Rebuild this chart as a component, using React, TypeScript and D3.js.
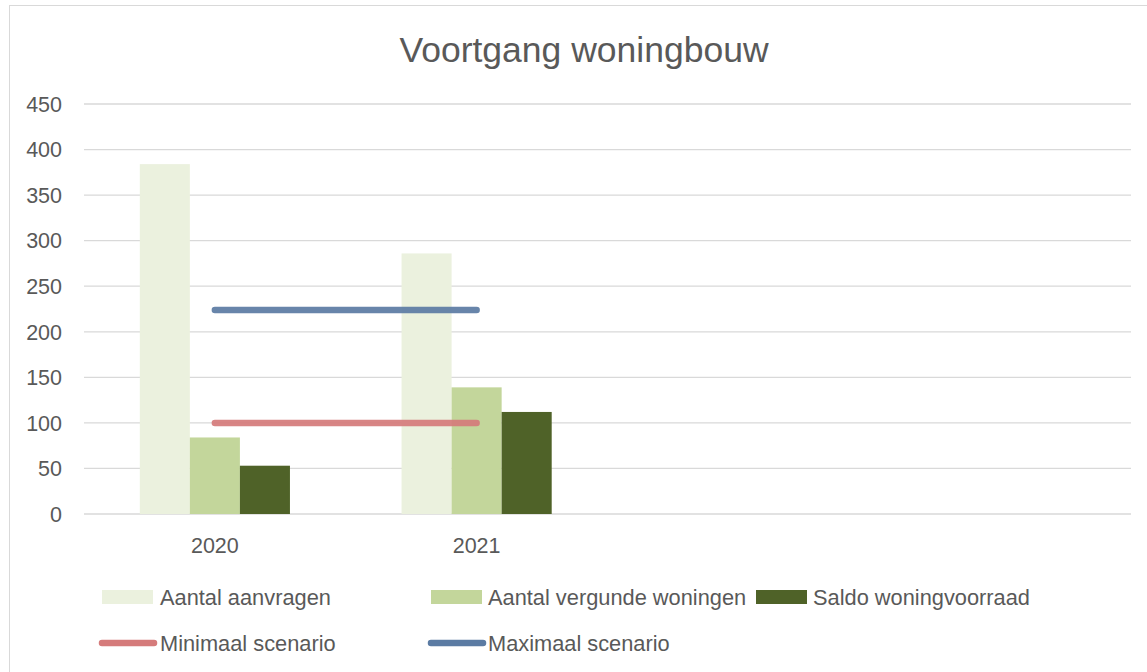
import React from "react";
import * as d3 from "d3";

// categories (the sheet has two extra empty rows)
const years = ["2020", "2021", "", ""];

// bar series
const aantalAanvragen = [384, 286];
const aantalVergund = [84, 139];
const saldoVoorraad = [53, 112];

// scenario lines
const minimaalScenario = [100, 100];
const maximaalScenario = [224, 224];

const yTicks = [0, 50, 100, 150, 200, 250, 300, 350, 400, 450];

const barSeries = [
  { name: "Aantal aanvragen", values: aantalAanvragen, color: "#EBF1DE" },
  { name: "Aantal vergunde woningen", values: aantalVergund, color: "#C3D69B" },
  { name: "Saldo woningvoorraad", values: saldoVoorraad, color: "#4F6228" },
];

const lineSeries = [
  { name: "Minimaal scenario", values: minimaalScenario, color: "#D57B7B" },
  { name: "Maximaal scenario", values: maximaalScenario, color: "#5B7BA3" },
];

const W = 1147;
const H = 672;
const font = "'Liberation Sans', Arial, sans-serif";
const textColor = "#595959";

export default function App() {
  const plot = { left: 84, right: 1131, top: 104, bottom: 514 };

  const x = d3
    .scaleBand<number>()
    .domain(d3.range(years.length))
    .range([plot.left, plot.right])
    .paddingInner(0.4264)
    .paddingOuter(0.2132);

  const xInner = d3
    .scaleBand<number>()
    .domain(d3.range(barSeries.length))
    .range([0, x.bandwidth()]);

  const y = d3.scaleLinear().domain([0, 450]).range([plot.bottom, plot.top]);

  const line = d3
    .line<number>()
    .x((_, i) => x(i)! + x.bandwidth() / 2)
    .y((d) => y(d));

  // legend layout
  const legendSlots = [
    { sx: 102, tx: 160, row: 0 },
    { sx: 431, tx: 488, row: 0 },
    { sx: 756, tx: 813, row: 0 },
  ];
  const lineLegendSlots = [
    { sx: 102, tx: 160, row: 1 },
    { sx: 431, tx: 488, row: 1 },
  ];
  const rowY = [597, 643];

  return (
    <div style={{ position: "absolute", left: 0, top: 0 }}>
      <svg width={W} height={H} style={{ display: "block", background: "#fff" }}>
        <rect x={9.5} y={5.5} width={1160} height={700} fill="#fff" stroke="#D9D9D9" />

        <text
          x={584}
          y={62}
          textAnchor="middle"
          fontFamily={font}
          fontSize={35.5}
          fill={textColor}
        >
          Voortgang woningbouw
        </text>

        {/* grid + y labels */}
        {yTicks.map((t) => (
          <g key={t}>
            <line
              x1={plot.left}
              x2={plot.right}
              y1={y(t)}
              y2={y(t)}
              stroke="#D9D9D9"
              strokeWidth={1.3}
            />
            <text
              x={62}
              y={y(t)}
              dy="0.36em"
              textAnchor="end"
              fontFamily={font}
              fontSize={21.5}
              fill={textColor}
            >
              {t}
            </text>
          </g>
        ))}

        {/* bars */}
        {barSeries.map((s, si) =>
          s.values.map((v, i) => (
            <rect
              key={s.name + i}
              x={x(i)! + xInner(si)!}
              y={y(v)}
              width={xInner.bandwidth()}
              height={y(0) - y(v)}
              fill={s.color}
            />
          ))
        )}

        {/* scenario lines */}
        {lineSeries.map((s) => (
          <path
            key={s.name}
            d={line(s.values) || ""}
            fill="none"
            stroke={s.color}
            strokeWidth={6.5}
            strokeLinecap="round"
            opacity={0.92}
          />
        ))}

        {/* category labels */}
        {years.map((yr, i) => (
          <text
            key={i}
            x={x(i)! + x.bandwidth() / 2}
            y={553}
            textAnchor="middle"
            fontFamily={font}
            fontSize={21.5}
            fill={textColor}
          >
            {yr}
          </text>
        ))}

        {/* legend */}
        {barSeries.map((s, i) => (
          <g key={s.name}>
            <rect
              x={legendSlots[i].sx}
              y={rowY[legendSlots[i].row] - 7}
              width={51}
              height={14}
              fill={s.color}
            />
            <text
              x={legendSlots[i].tx}
              y={rowY[legendSlots[i].row]}
              dy="0.36em"
              fontFamily={font}
              fontSize={21.8}
              fill={textColor}
            >
              {s.name}
            </text>
          </g>
        ))}
        {lineSeries.map((s, i) => (
          <g key={s.name}>
            <line
              x1={lineLegendSlots[i].sx}
              x2={lineLegendSlots[i].sx + 52}
              y1={rowY[lineLegendSlots[i].row]}
              y2={rowY[lineLegendSlots[i].row]}
              stroke={s.color}
              strokeWidth={6.5}
              strokeLinecap="round"
            />
            <text
              x={lineLegendSlots[i].tx}
              y={rowY[lineLegendSlots[i].row]}
              dy="0.36em"
              fontFamily={font}
              fontSize={21.8}
              fill={textColor}
            >
              {s.name}
            </text>
          </g>
        ))}
      </svg>
    </div>
  );
}
